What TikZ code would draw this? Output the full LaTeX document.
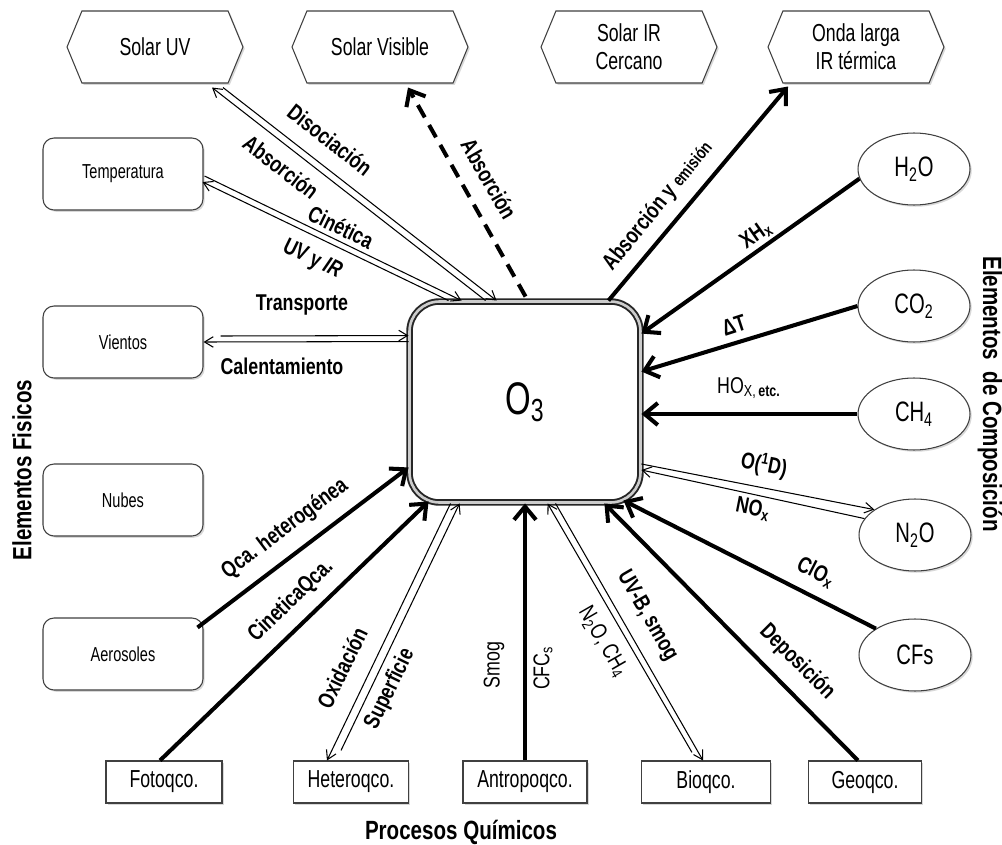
\documentclass[tikz,border=0pt]{standalone}
\usepackage{fontspec}
\setmainfont[FakeStretch=0.78]{Liberation Sans}
\newfontfamily\boxfont[FakeStretch=0.72]{Liberation Sans}
\usepackage{tikz}
\usetikzlibrary{arrows.meta,calc,shapes.geometric,shapes.symbols,shadows}

\newcommand{\fsz}[1]{\fontsize{#1}{#1}\selectfont}

\begin{document}
\begin{tikzpicture}[x=0.02cm,y=-0.02cm,
	shadowed/.style={drop shadow={opacity=0.3,shadow xshift=1pt,shadow yshift=-1pt}},
	hexbox/.style={signal,signal to=east and west,signal pointer angle=135,
		draw=black!75,line width=0.6pt,fill=white,shadowed,
		minimum width=3.52cm,minimum height=1.44cm,inner sep=1pt,align=center,
		font=\boxfont\fontsize{14}{16}\selectfont},
	physbox/.style={rectangle,rounded corners=0.22cm,draw=black!75,line width=0.6pt,
		fill=white,shadowed,minimum width=3.2cm,minimum height=1.44cm,
		font=\boxfont\fsz{11.5}},
	compbox/.style={ellipse,draw=black!75,line width=0.6pt,fill=white,shadowed,
		minimum width=2.24cm,minimum height=1.44cm,inner sep=0pt,font=\boxfont\fsz{16}},
	procbox/.style={rectangle,draw=black!75,line width=0.6pt,fill=white,shadowed,
		minimum height=0.84cm,font=\boxfont\fsz{14}},
	ozone/.style={rectangle,rounded corners=0.6cm,draw=black!85,line width=1.1pt,
		double=black!20,double distance=1.5pt,fill=white,shadowed,
		minimum width=4.62cm,minimum height=4.02cm,font=\boxfont\fsz{26}},
	thinarrow/.style={line width=0.6pt,-{Straight Barb[length=5pt,width=6pt]}},
	thickarrow/.style={line width=2.3pt,-{Straight Barb[length=7.5pt,width=12.5pt]}},
	dasharrow/.style={thickarrow,dash pattern=on 8pt off 5pt},
	lbl/.style={font=\bfseries\fsz{13},inner sep=0pt},
	lblr/.style={font=\fsz{13},inner sep=0pt},
	sidetitle/.style={font=\bfseries\fsz{15},inner sep=0pt}]

	\useasboundingbox (0,0) rectangle (1002,845);
	\fill[white] (0,0) rectangle (1002,845);

	\node[hexbox] (uv)  at (155,47) {Solar UV};
	\node[hexbox] (vis) at (380,47) {Solar Visible};
	\node[hexbox] (nir) at (629,47) {Solar IR\\Cercano};
	\node[hexbox] (lw)  at (856,47) {Onda larga\\IR térmica};

	\node[physbox] (temp)  at (123,174) {Temperatura};
	\node[physbox] (wind)  at (123,342) {Vientos};
	\node[physbox] (cloud) at (123,500) {Nubes};
	\node[physbox] (aer)   at (123,654) {Aerosoles};

	\node[compbox] (h2o) at (914,169) {H\textsubscript{2}O};
	\node[compbox] (co2) at (914,306) {CO\textsubscript{2}};
	\node[compbox] (ch4) at (914,414) {CH\textsubscript{4}};
	\node[compbox] (n2o) at (915,535) {N\textsubscript{2}O};
	\node[compbox] (cfs) at (915,655) {CFs};

	\node[procbox,minimum width=2.32cm] (foto) at (164,782) {Fotoqco.};
	\node[procbox,minimum width=2.30cm] (het)  at (351,782) {Heteroqco.};
	\node[procbox,minimum width=2.48cm] (ant)  at (525,782) {Antropoqco.};
	\node[procbox,minimum width=2.58cm] (bio)  at (706,782) {Bioqco.};
	\node[procbox,minimum width=2.26cm] (geo)  at (865,782) {Geoqco.};

	\node[ozone] (o3) at (525,402) {O\textsubscript{3}};

	\draw[thinarrow] ($(o3.north west)+(77,0)$) -- ($(uv.south)+(57,4)$);
	\draw[thinarrow] ($(uv.south)+(68,4)$) -- ($(o3.north west)+(88,0)$);
	\draw[dasharrow] ($(o3.north west)+(117,-4)$) -- ($(vis.south)+(28,4)$);
	\draw[thickarrow] ($(o3.north east)+(-33,0)$) -- ($(lw.south)+(-68,3)$);
	\draw[thinarrow] ($(temp.east)+(1,2)$) -- ($(o3.north west)+(53,0)$);
	\draw[thinarrow] ($(o3.north west)+(40,0)$) -- ($(temp.east)+(-1,8)$);
	\draw[thinarrow] ($(wind.east)+(17,-6)$) -- ($(o3.north west)+(0,35)$);
	\draw[thinarrow] ($(o3.north west)+(0,41)$) -- (wind.east);

	\draw[thickarrow] (h2o.190) -- ($(o3.north east)+(0,33)$);
	\draw[thickarrow] (co2.west) -- ($(o3.north east)+(0,71)$);
	\draw[thickarrow] (ch4.west) -- (ch4.west -| o3.east);
	\draw[thinarrow] ($(o3.east)+(0,62)$) -- (n2o.148);
	\draw[thinarrow] (n2o.162) -- ($(o3.east)+(0,68)$);
	\draw[thickarrow] (cfs.146) -- ($(o3.south east)+(-18,-3)$);

	\draw[thickarrow] ($(geo.north)+(-7,0)$) -- ($(o3.south east)+(-37,0)$);
	\draw[thinarrow] ($(bio.north)+(-14,-8)$) -- ($(o3.south west)+(139,0)$);
	\draw[thinarrow] ($(o3.south west)+(147,0)$) -- ($(bio.north)+(-3,0)$);
	\draw[thickarrow] (ant.north) -- (ant.north |- o3.south);
	\draw[thinarrow] ($(o3.south west)+(42,0)$) -- ($(het.north)+(-24,0)$);
	\draw[thinarrow] ($(het.north)+(-10,-10)$) -- ($(o3.south west)+(51,0)$);
	\draw[thickarrow] ($(foto.north)+(-4,0)$) -- ($(o3.south west)+(20,-2)$);
	\draw[thickarrow] ($(aer.north east)+(-6,10)$) -- ($(o3.south west)+(0,-36)$);

	\node[lbl,rotate=-38]   (ldis)   at (330,140) {Disociación};
	\node[lbl,rotate=-38]   (labsuv) at (281,167) {Absorción};
	\node[lbl,rotate=-26]   (lcin)   at (341,227) {Cinética};
	\node[lbl,rotate=-26]   (luvir)  at (312,260) {UV y \textit{IR}};
	\node[lbl,rotate=-60]   (labsvi) at (489,179) {Absorción};
	\node[lbl,rotate=51]    (labsem) at (658,206) {Absorción y {\fsz{10}emisión}};
	\node[lbl,rotate=35]    (lxh)    at (756,235) {XH\textsubscript{x}};
	\node[lbl,rotate=18]    (ldt)    at (734,325) {ΔT};
	\node[lblr]             (lhox)   at (749,388) {HO\textsubscript{X,\,\bfseries etc.}};
	\node[lbl,rotate=-11]   (lo1d)   at (764,465) {O(\textsuperscript{1}D)};
	\node[lbl,rotate=-11]   (lnox)   at (753,509) {NO\textsubscript{x}};
	\node[lbl,rotate=-27]   (lclo)   at (816,572) {ClO\textsubscript{x}};
	\node[lbl,rotate=-45]   (ldep)   at (797,662) {Deposición};
	\node[lbl,rotate=-60]   (luvb)   at (647,616) {UV-B, smog};
	\node[lblr,rotate=-60]  (ln2o)   at (603,642) {N\textsubscript{2}O, CH\textsubscript{4}};
	\node[lblr,rotate=90]   (lsmog)  at (494,665) {Smog};
	\node[lblr,rotate=90]   (lcfc)   at (543,668) {CFC\textsubscript{s}};
	\node[lbl,rotate=64]    (loxi)   at (342,668) {Oxidación};
	\node[lbl,rotate=64]    (lsup)   at (390,689) {Superficie};
	\node[lbl,rotate=44]    (lcinq)  at (291,601) {CineticaQca.};
	\node[lbl,rotate=37]    (lqca)   at (285,529) {Qca. heterogénea};
	\node[lbl]              (ltra)   at (302,305) {Transporte};
	\node[lbl]              (lcal)   at (282,366) {Calentamiento};

	\node[sidetitle,rotate=90]  (tfis)  at (22,470)  {Elementos Fisicos};
	\node[sidetitle,rotate=-90] (tcomp) at (990,394) {Elementos\ \ de Composición};
	\node[sidetitle]            (tproc) at (461,832) {Procesos Químicos};
\end{tikzpicture}
\end{document}
